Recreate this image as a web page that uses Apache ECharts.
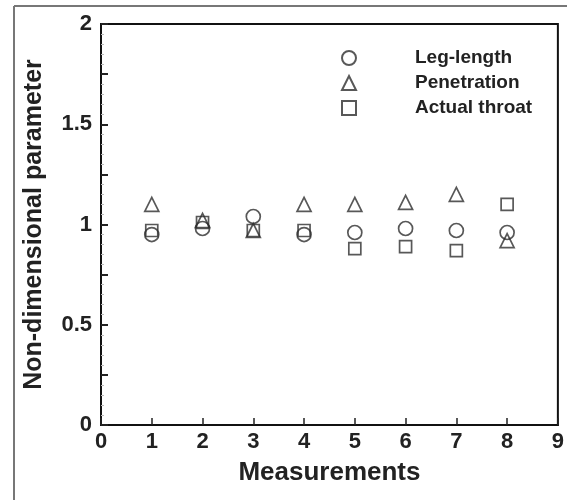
<!DOCTYPE html>
<html>
<head>
<meta charset="utf-8">
<script src="https://cdn.jsdelivr.net/npm/echarts@6/dist/echarts.min.js"></script>
<style>html,body{margin:0;padding:0;background:#fff;}#c{width:567px;height:500px;}</style>
</head>
<body>
<div id="c"></div>
<script>
const measurements = [1, 2, 3, 4, 5, 6, 7, 8];
const legLength   = [0.95, 0.98, 1.04, 0.95, 0.96, 0.98, 0.97, 0.96];
const penetration = [1.10, 1.02, 0.97, 1.10, 1.10, 1.11, 1.15, 0.92];
const actualThroat= [0.97, 1.01, 0.97, 0.97, 0.88, 0.89, 0.87, 1.10];
const yLabels = [0, 0.5, 1, 1.5, 2];

const FONT = '"Liberation Sans", Arial, sans-serif';
const mk = '#2e2e2e';
function pts(arr){ return measurements.map((m,i)=>[m, arr[i]]); }
function ser(name, data, symbol, size){
  return {
    name, type:'scatter', data: pts(data), symbol, symbolSize:size,
    itemStyle:{color:'transparent', borderColor:mk, borderWidth:1.7},
    emphasis:{disabled:true}, z:3
  };
}
const chart = echarts.init(document.getElementById('c'));
chart.setOption({
  animation:false,
  backgroundColor:'#fff',
  grid:{left:101, right:9, top:24, bottom:75, show:true, borderColor:'#111', borderWidth:2, backgroundColor:'transparent'},
  legend:{
    orient:'vertical', left:336, top:43, itemWidth:14, itemHeight:14, itemGap:5,
    selectedMode:false,
    textStyle:{fontFamily:FONT, fontWeight:'bold', fontSize:19, color:'#222', lineHeight:20, padding:[0,0,0,54]},
    data:['Leg-length','Penetration','Actual throat']
  },
  xAxis:{
    type:'value', min:0, max:9, interval:1,
    name:'Measurements', nameLocation:'middle', nameGap:35,
    nameTextStyle:{fontFamily:FONT, fontWeight:'bold', fontSize:26, color:'#222'},
    axisLine:{show:true, lineStyle:{color:'#111', width:2}},
    axisTick:{show:true, inside:true, length:7, lineStyle:{color:'#222', width:1.5}},
    minorTick:{show:false},
    splitLine:{show:false},
    axisLabel:{fontFamily:FONT, fontWeight:'bold', fontSize:22, color:'#222', margin:6}
  },
  yAxis:{
    type:'value', min:0, max:2, interval:0.25,
    name:'Non-dimensional parameter', nameLocation:'middle', nameGap:54,
    nameTextStyle:{fontFamily:FONT, fontWeight:'bold', fontSize:25, color:'#222'},
    axisLine:{show:true, lineStyle:{color:'#111', width:2}},
    axisTick:{show:true, inside:true, length:7, lineStyle:{color:'#222', width:2}},
    minorTick:{show:true, splitNumber:5, length:3, lineStyle:{color:'#bbb', width:1}},
    splitLine:{show:false},
    axisLabel:{fontFamily:FONT, fontWeight:'bold', fontSize:22, color:'#222', margin:9,
      formatter:function(v){ return yLabels.some(t=>Math.abs(t-v)<1e-9) ? String(v) : ''; }}
  },
  graphic:[
    {type:'line', shape:{x1:14,y1:6,x2:14,y2:500}, style:{stroke:'#777', lineWidth:2}, silent:true},
    {type:'line', shape:{x1:14,y1:6,x2:567,y2:6}, style:{stroke:'#777', lineWidth:2}, silent:true}
  ],
  series:[
    ser('Leg-length', legLength, 'circle', 14),
    ser('Penetration', penetration, 'triangle', 14),
    ser('Actual throat', actualThroat, 'rect', 12)
  ]
});
</script>
</body>
</html>
